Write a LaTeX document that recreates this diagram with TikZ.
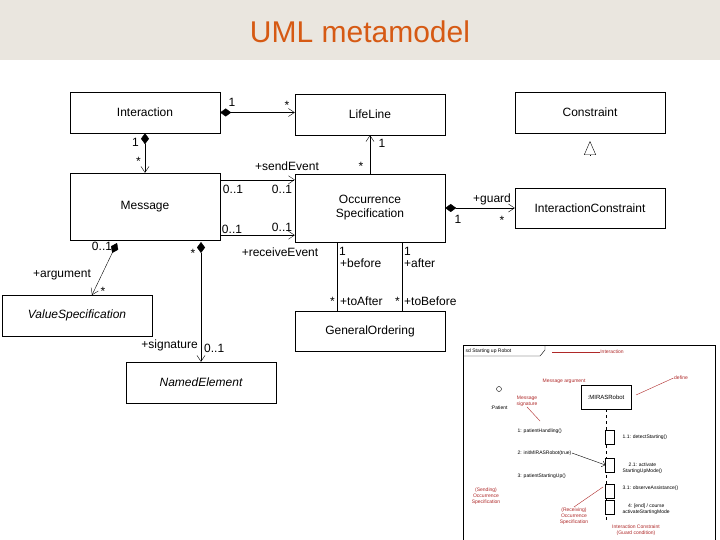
\documentclass[tikz,border=0pt]{standalone}
\usepackage{fontspec}
\setmainfont{Liberation Sans}
\usetikzlibrary{arrows.meta}
\definecolor{titlebg}{RGB}{234,230,223}
\definecolor{titlefg}{RGB}{214,90,20}
\definecolor{notered}{RGB}{175,40,40}

\begin{document}
\begin{tikzpicture}[x=1pt, y=-1pt]
    \tikzset{ cls/.style={draw=black, minimum width=150pt, minimum height=41pt, inner sep=0pt, align=center, font=\fontsize{12}{14}\selectfont } }
    \tikzset{ lbl/.style={font=\fontsize{12}{13}\selectfont, inner sep=1pt } }
    \tikzset{ assoc/.style={draw=black, -{Straight Barb[length=6pt, width=8pt]} } }
    \tikzset{ comp/.style={draw=black, {Diamond[length=11pt, width=8pt]}-{Straight Barb[length=6pt, width=8pt]} } }
    \tikzset{ tiny/.style={font=\fontsize{5}{6}\selectfont, inner sep=0.5pt, align=center } }
    \tikzset{ note/.style={tiny, text=notered } }

    \useasboundingbox (0,0) rectangle (720,540);
    \fill[white] (0,0) rectangle (720,540);
    \fill[titlebg] (0,0) rectangle (720,60);
    \node[font=\fontsize{30}{34}\selectfont, text=titlefg] (title) at (360,32) {UML metamodel};

    \node[cls] (inter) at (145,112.5) {Interaction};
    \node[cls] (life) at (370,114.5) {LifeLine};
    \node[cls] (cons) at (590,112.5) {Constraint};
    \node[cls, minimum height=67pt] (msg) at (145,206.5) {Message};
    \node[cls, minimum height=68pt] (occ) at (370,208) {Occurrence\\Specification};
    \node[cls, minimum height=40pt] (icons) at (590,208) {InteractionConstraint};
    \node[cls, font=\fontsize{12}{14}\selectfont\itshape] (vspec) at (77,315.5) {ValueSpecification};
    \node[cls, font=\fontsize{12}{14}\selectfont\itshape] (named) at (201,382.5) {NamedElement};
    \node[cls, minimum height=40pt] (gord) at (370,331) {GeneralOrdering};

    \draw[comp] (inter.east) -- (life.west |- inter.east);
    \node[lbl, anchor=south] (m1) at (232,108) {1};
    \node[lbl, anchor=south] (m2) at (287,111) {*};

    \draw[comp] (inter.south) -- (msg.north);
    \node[lbl, anchor=east] (m3) at (140,142) {1};
    \node[lbl, anchor=east] (m4) at (142,161) {*};

    \draw[assoc] ([yshift=-7pt]msg.north east) -- ([yshift=-7pt]msg.north east -| occ.west);
    \draw[assoc] ([yshift=5pt]msg.south east) -- ([yshift=5pt]msg.south east -| occ.west);
    \node[lbl, anchor=south] (send) at (287,172) {+sendEvent};
    \node[lbl] (m5) at (233,189) {0..1};
    \node[lbl] (m6) at (282,189) {0..1};
    \node[lbl] (m7) at (232,229) {0..1};
    \node[lbl] (m8) at (282,227) {0..1};
    \node[lbl] (recv) at (280,252) {+receiveEvent};

    \draw[assoc] (occ.north) -- (life.south);
    \node[lbl] (m9) at (382,143) {1};
    \node[lbl] (m10) at (361,166) {*};

    \draw[comp] (occ.east) -- (icons.west);
    \node[lbl, anchor=south] (guard) at (492,206) {+guard};
    \node[lbl] (m11) at (458,219) {1};
    \node[lbl] (m12) at (502,220) {*};

    % generalization mark only
    \coordinate (gen) at (590,155);
    \coordinate (gentip) at (590,141);
    \draw[-{Triangle[open, length=14pt, width=12pt]}] (gen) -- (gentip);

    \draw (occ.south -| 337,0) -- (gord.north -| 337,0);
    \draw (occ.south -| 402,0) -- (gord.north -| 402,0);
    \node[lbl, anchor=west] (m13) at (338,251) {1};
    \node[lbl, anchor=west] (before) at (339,263) {+before};
    \node[lbl, anchor=west] (m14) at (403,251) {1};
    \node[lbl, anchor=west] (after) at (403,263) {+after};
    \node[lbl, anchor=east] (m15) at (336,301) {*};
    \node[lbl, anchor=west] (toafter) at (339,301) {+toAfter};
    \node[lbl, anchor=east] (m16) at (401,301) {*};
    \node[lbl, anchor=west] (tobefore) at (403,301) {+toBefore};

    \coordinate (argd) at (117,243);
    \draw[comp] (argd) -- (92,295);
    \node[lbl] (m17) at (102,246) {0..1};
    \node[lbl] (arg) at (62,275) {+argument};
    \node[lbl] (m18) at (103,291) {*};

    \coordinate (sigd) at (201,242);
    \draw[comp] (sigd) -- (named.north);
    \node[lbl] (m19) at (193,253) {*};
    \node[lbl, anchor=east] (sig) at (199,345) {+signature};
    \node[lbl, anchor=west] (m20) at (203,348) {0..1};

    % embedded sequence diagram
    \node[draw=black, minimum width=252pt, minimum height=196pt, inner sep=0pt] (frame) at (589,443) {};
    \draw (463,356) -- (540,356) -- (545,350) -- (545,345);
    \node[tiny, anchor=west] (sdname) at (465,351) {sd Starting up Robot};
    \node[draw=black, minimum width=50pt, minimum height=24pt, inner sep=0pt, font=\fontsize{6}{7}\selectfont] (robot) at (606,397) {:MIRASRobot};
    \draw[dashed] (robot.south) -- (606,520);
    \node[draw=black, minimum width=9pt, minimum height=14pt, inner sep=0pt, fill=white] (act1) at (610,437) {};
    \node[draw=black, minimum width=9pt, minimum height=14pt, inner sep=0pt, fill=white] (act2) at (610,465) {};
    \node[draw=black, minimum width=9pt, minimum height=14pt, inner sep=0pt, fill=white] (act3) at (610,491) {};
    \node[draw=black, minimum width=9pt, minimum height=14pt, inner sep=0pt, fill=white] (act4) at (610,507) {};
    \node[circle, draw=black, minimum size=5pt, inner sep=0pt] (actor) at (499,389) {};
    \node[tiny] (patient) at (499,408) {:Patient};
    \node[tiny, anchor=west] (s1) at (517,431) {1: patientHandling()};
    \node[tiny, anchor=west] (s2) at (517,453) {2: initMIRASRobot(true)};
    \node[tiny, anchor=west] (s3) at (517,476) {3: patientStartingUp()};
    \draw[-{Straight Barb[length=3pt]}] (s2.east) -- (act2.west);
    \node[tiny, anchor=west] (s4) at (622,437) {1.1: detectStarting()};
    \node[tiny, anchor=west] (s5) at (622,468) {2.1: activate\\StartingUpMode()};
    \node[tiny, anchor=west] (s6) at (622,488) {3.1: observeAssistance()};
    \node[tiny, anchor=west] (s7) at (622,509) {4: [end] / course\\activateStartingMode};
    \node[note] (n1) at (612,352) {Interaction};
    \node[note] (n2) at (681,378) {define};
    \node[note] (n3) at (564,381) {Message argument};
    \node[note] (n4) at (527,401) {Message\\signature};
    \node[note] (n5) at (486,496) {(Sending)\\Occurrence\\Specification};
    \node[note] (n6) at (574,516) {(Receiving)\\Occurrence\\Specification};
    \node[note] (n7) at (636,530) {Interaction Constraint\\(Guard condition)};
    \draw[notered] (n1.west) -- (552,352);
    \draw[notered] (n2.west) -- (636,395);
    \draw[notered] (n6.north) -- (603,487);
    \draw[notered] (n4.south) -- (540,421);
\end{tikzpicture}
\end{document}
